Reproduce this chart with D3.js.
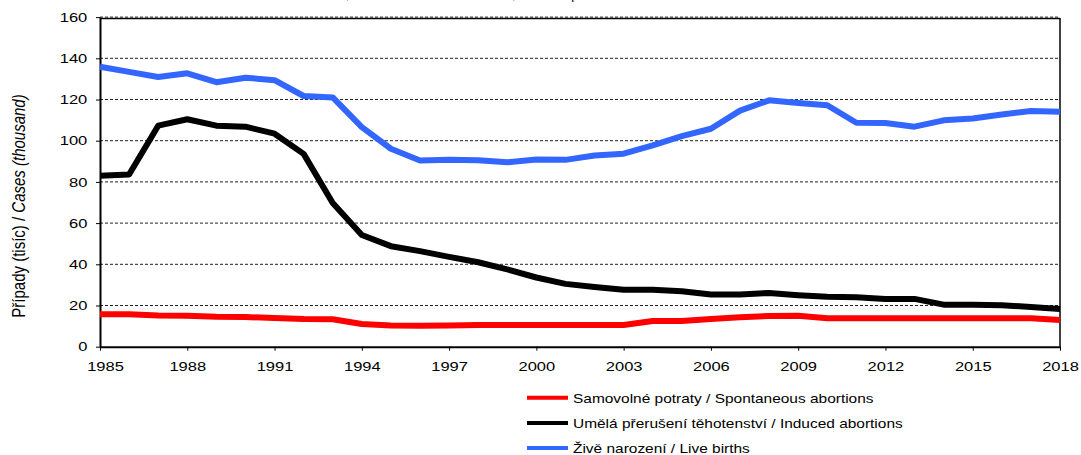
<!DOCTYPE html>
<html>
<head>
<meta charset="utf-8">
<script src="https://cdn.jsdelivr.net/npm/d3@7"></script>
<style>
    body { margin: 0; background: #fff; }
    text { font-family: "Liberation Sans", Arial, sans-serif; fill: #000; }
</style>
</head>
<body>
<div id="graphic"></div>
<script>
// Years on the x axis
var years = [1985, 1986, 1987, 1988, 1989, 1990, 1991, 1992, 1993, 1994, 1995, 1996,
    1997, 1998, 1999, 2000, 2001, 2002, 2003, 2004, 2005, 2006, 2007, 2008, 2009,
    2010, 2011, 2012, 2013, 2014, 2015, 2016, 2017, 2018];

// Series values (thousand cases)
var spontaneous = [15.8, 15.8, 15.2, 15.0, 14.5, 14.4, 13.9, 13.4, 13.3, 11.0, 10.3, 10.2,
    10.3, 10.5, 10.5, 10.5, 10.5, 10.5, 10.5, 12.5, 12.5, 13.4, 14.3, 14.9, 15.0,
    13.8, 13.8, 13.8, 13.8, 13.8, 13.8, 13.8, 13.8, 13.0];
var induced = [83.0, 83.6, 107.3, 110.4, 107.3, 106.8, 103.4, 93.6, 69.8, 54.2, 48.8, 46.4,
    43.6, 41.0, 37.5, 33.6, 30.5, 29.0, 27.7, 27.7, 26.9, 25.3, 25.3, 26.1, 25.0,
    24.2, 24.0, 23.2, 23.2, 20.4, 20.4, 20.1, 19.3, 18.3];
var liveBirths = [135.9, 133.4, 130.9, 132.7, 128.4, 130.6, 129.4, 121.7, 121.0, 106.6, 96.1, 90.4,
    90.7, 90.5, 89.5, 90.9, 90.7, 92.8, 93.7, 97.7, 102.2, 105.8, 114.6, 119.6, 118.3,
    117.2, 108.7, 108.6, 106.8, 109.9, 110.8, 112.7, 114.4, 114.0];

// Tick labels
var xTicks = [1985, 1988, 1991, 1994, 1997, 2000, 2003, 2006, 2009, 2012, 2015, 2018];
var yTicks = [0, 20, 40, 60, 80, 100, 120, 140, 160];

var seriesNames = ["Samovolné potraty / Spontaneous abortions",
    "Umělá přerušení těhotenství / Induced abortions",
    "Živě narození / Live births"];
var seriesColors = ["#ff0000", "#000000", "#3366ff"];
var seriesData = [spontaneous, induced, liveBirths];

var svgWidth = 1081;
var svgHeight = 455;

var svg = d3.select("#graphic")
    .append("svg")
    .attr("width", svgWidth)
    .attr("height", svgHeight);

var x = d3.scaleLinear().domain([1985, 2018]).range([100, 1060]);
var y = d3.scaleLinear().domain([0, 160]).range([346.7, 17.1]);

// title, mostly above the top edge (only its lowest pixels show)
svg.append("text")
    .attr("x", 267)
    .attr("y", -1)
    .style("font-size", "13px")
    .text("Živě narození, umělé ukončení těhotenství, Česká republika");

// dashed gridlines
svg.append("g")
    .selectAll("line")
    .data(yTicks.filter(function(d) { return d > 0; }))
    .enter()
    .append("line")
    .attr("x1", x(1985))
    .attr("x2", x(2018))
    .attr("y1", function(d) { return y(d); })
    .attr("y2", function(d) { return y(d); })
    .attr("stroke", "#222")
    .attr("stroke-width", 1)
    .attr("stroke-dasharray", "3,2");

// frame top and right
svg.append("line")
    .attr("x1", x(1985)).attr("x2", x(2018))
    .attr("y1", y(160) + 1.4).attr("y2", y(160) + 1.4)
    .attr("stroke", "#000").attr("stroke-width", 1.5);
svg.append("line")
    .attr("x1", x(2018)).attr("x2", x(2018))
    .attr("y1", y(160) + 1).attr("y2", y(0))
    .attr("stroke", "#000").attr("stroke-width", 1.5);

// axes
var sxAxis = 1.27;
var gY = svg.append("g")
    .attr("transform", "translate(" + x(1985) + ",0)")
    .call(d3.axisLeft(y).tickValues(yTicks).tickSize(4).tickSizeOuter(0));
gY.selectAll("text")
    .attr("x", -12.7 / sxAxis)
    .attr("transform", "scale(" + sxAxis + ",1)")
    .style("font-size", "13px");

var gX = svg.append("g")
    .attr("transform", "translate(0," + y(0) + ")")
    .call(d3.axisBottom(x).tickValues(xTicks).tickSize(4).tickSizeOuter(0).tickFormat(d3.format("d")));
gX.selectAll("text")
    .attr("y", 15)
    .attr("x", function(d, i) { return i === 0 ? 5 / sxAxis : 0; })
    .attr("transform", "scale(" + sxAxis + ",1)")
    .style("font-size", "13px");

svg.selectAll(".domain").attr("stroke", "#000").attr("stroke-width", 2);
svg.selectAll(".tick line").attr("stroke", "#000").attr("stroke-width", 1);

// y axis title
var yTitle = svg.append("text")
    .attr("transform", "translate(25,206) rotate(-90) scale(1,1.17)")
    .attr("text-anchor", "middle")
    .style("font-size", "15px");
yTitle.append("tspan").text("Případy (tisíc) / ");
yTitle.append("tspan").style("font-style", "italic").text("Cases (thousand)");

// series lines
var line = d3.line()
    .x(function(d, i) { return x(years[i]); })
    .y(function(d) { return y(d); });

svg.append("g")
    .selectAll("path")
    .data(seriesData)
    .enter()
    .append("path")
    .attr("d", line)
    .attr("fill", "none")
    .attr("stroke", function(d, i) { return seriesColors[i]; })
    .attr("stroke-width", 6)
    .attr("stroke-linejoin", "round");

// legend
var sxLegend = 1.19;
var legend = svg.append("g")
    .selectAll("g")
    .data(seriesNames)
    .enter()
    .append("g")
    .attr("transform", function(d, i) { return "translate(527," + (397.7 + i * 25.2) + ")"; });

legend.append("line")
    .attr("x1", 0).attr("x2", 41)
    .attr("y1", 0).attr("y2", 0)
    .attr("stroke", function(d, i) { return seriesColors[i]; })
    .attr("stroke-width", 4);

legend.append("text")
    .attr("x", 46 / sxLegend)
    .attr("y", 5)
    .attr("transform", "scale(" + sxLegend + ",1)")
    .style("font-size", "13px")
    .text(function(d) { return d; });
</script>
</body>
</html>
